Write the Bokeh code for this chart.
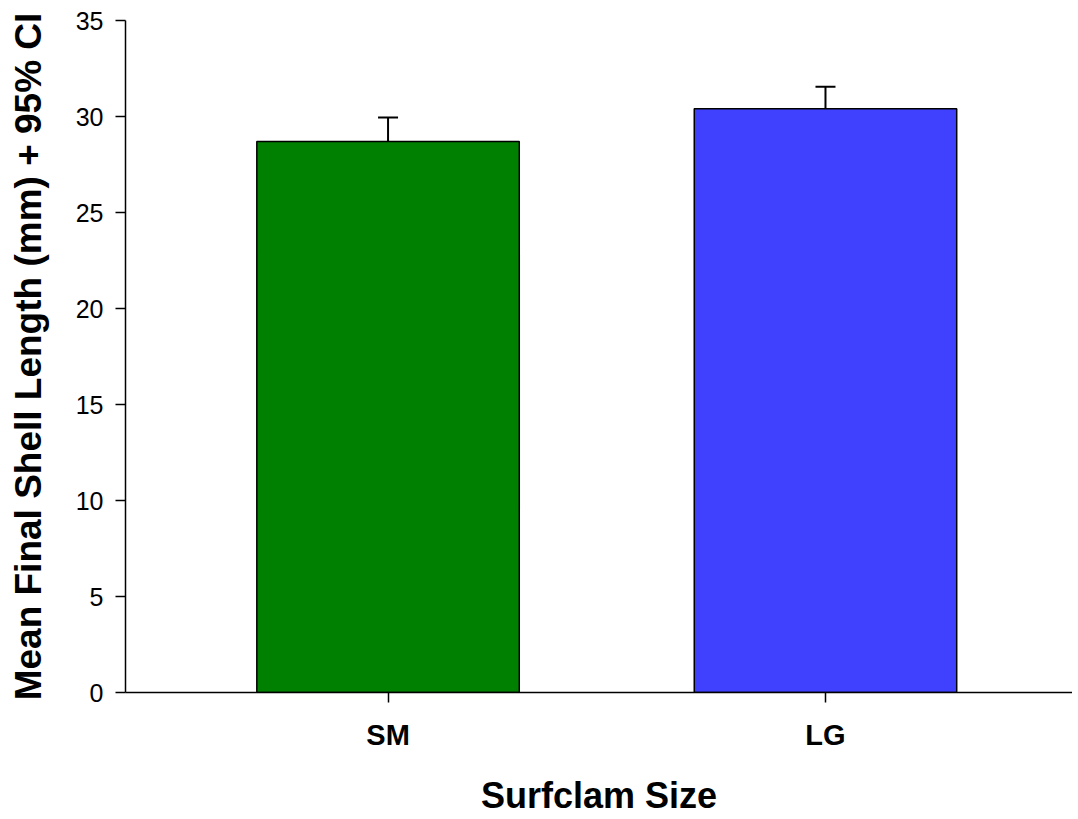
from bokeh.plotting import figure
from bokeh.models import ColumnDataSource, Range1d, FixedTicker, Whisker, TeeHead
from bokeh.embed import file_html
from bokeh.resources import INLINE

categories = ["SM", "LG"]
means = [28.7, 30.4]
upper_ci = [29.95, 31.55]
colors = ["#008000", "#4040FF"]
positions = [0.5, 1.5]
y_ticks = [0, 5, 10, 15, 20, 25, 30, 35]

src = ColumnDataSource(dict(x=positions, top=means, upper=upper_ci, color=colors, cat=categories))

p = figure(width=1072, height=819, output_backend="svg", toolbar_location=None,
           x_range=Range1d(-0.1002, 2.0647), y_range=Range1d(0, 35),
           min_border_left=125, min_border_top=20, min_border_right=0, min_border_bottom=127)
p.outline_line_color = None
p.xgrid.visible = False
p.ygrid.visible = False
p.background_fill_color = "white"
p.border_fill_color = "white"

p.vbar(x="x", top="top", bottom=0, width=0.6, fill_color="color", line_color="black",
       line_width=1.5, source=src)

wh = Whisker(source=src, base="x", lower="top", upper="upper", line_color="black", line_width=2,
             upper_head=TeeHead(size=20, line_color="black", line_width=2), lower_head=None)
p.add_layout(wh)

font = "Liberation Sans"
p.xaxis.ticker = FixedTicker(ticks=positions)
p.xaxis.major_label_overrides = {positions[i]: categories[i] for i in range(len(categories))}
p.xaxis.axis_label = "Surfclam Size"
p.yaxis.ticker = FixedTicker(ticks=y_ticks)
p.yaxis.axis_label = "Mean Final Shell Length (mm) + 95% CI"

for ax in (p.xaxis, p.yaxis):
    ax.axis_line_color = "black"
    ax.axis_line_width = 1.5
    ax.major_tick_line_color = "black"
    ax.major_tick_line_width = 1.5
    ax.major_tick_out = 10
    ax.major_tick_in = 0
    ax.minor_tick_line_color = None
    ax.axis_label_text_font = font
    ax.axis_label_text_font_style = "bold"
    ax.axis_label_text_color = "black"
    ax.major_label_text_font = font
    ax.major_label_text_color = "black"

p.xaxis.major_label_text_font_size = "29px"
p.xaxis.major_label_text_font_style = "bold"
p.xaxis.major_label_standoff = 16
p.xaxis.axis_label_text_font_size = "36px"
p.xaxis.axis_label_standoff = 21

p.yaxis.major_label_text_font_size = "25px"
p.yaxis.major_label_standoff = 12
p.yaxis.axis_label_text_font_size = "37px"
p.yaxis.axis_label_standoff = 24

open("out.html", "w").write(file_html(p, INLINE))
